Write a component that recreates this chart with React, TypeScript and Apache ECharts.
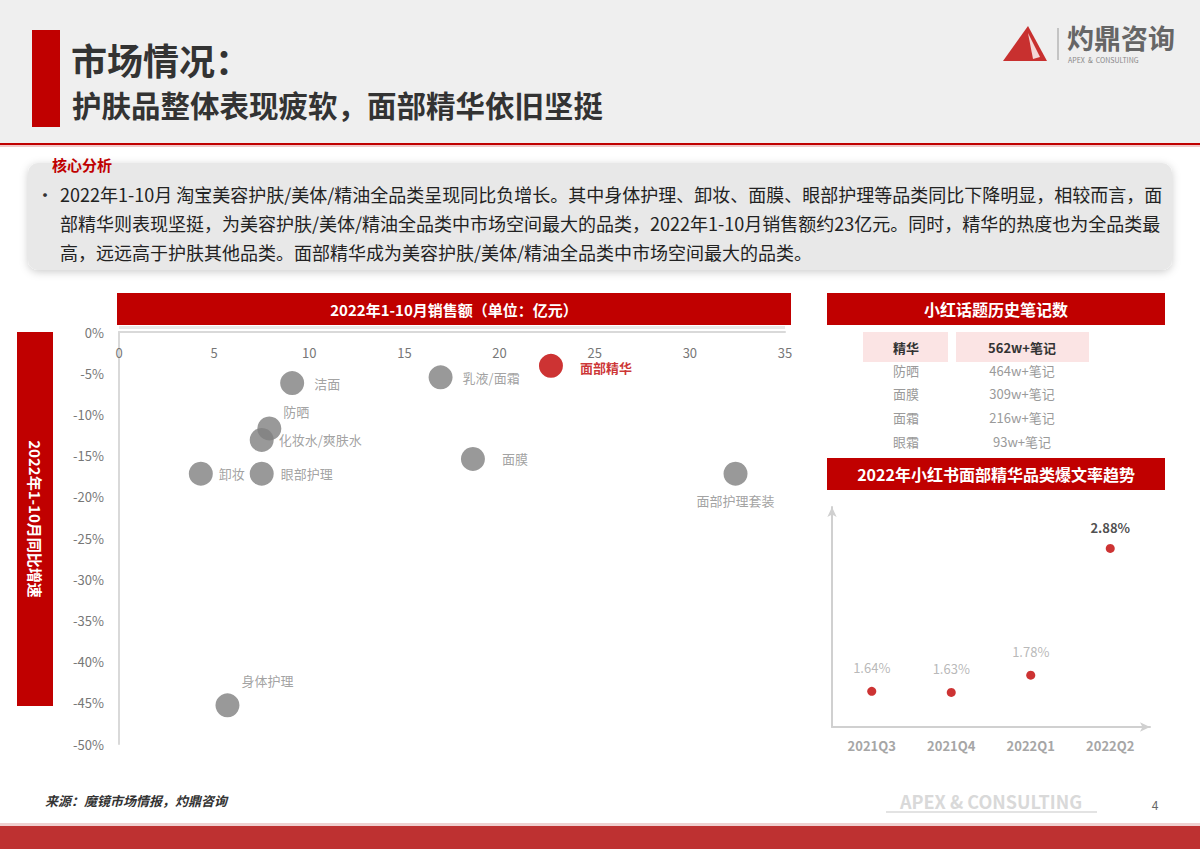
import React, { useEffect, useRef } from "react";
import * as echarts from "echarts";

const categories = ["洁面", "防晒", "化妆水/爽肤水", "卸妆", "眼部护理", "乳液/面霜", "面部精华", "面膜", "面部护理套装", "身体护理"];
const salesValues = [9.1, 7.9, 7.5, 4.3, 7.5, 16.9, 22.7, 18.6, 32.4, 5.7];
const growthValues = [-6.2, -11.7, -13.1, -17.2, -17.2, -5.5, -4.1, -15.4, -17.2, -45.3];

const noteTopics = ["精华", "防晒", "面膜", "面霜", "眼霜"];
const noteCounts = ["562w+笔记", "464w+笔记", "309w+笔记", "216w+笔记", "93w+笔记"];

const quarters = ["2021Q3", "2021Q4", "2022Q1", "2022Q2"];
const hotRates = [1.64, 1.63, 1.78, 2.88];

const analysisLines = [
  "2022年1-10月 淘宝美容护肤/美体/精油全品类呈现同比负增长。其中身体护理、卸妆、面膜、眼部护理等品类同比下降明显，相较而言，面",
  "部精华则表现坚挺，为美容护肤/美体/精油全品类中市场空间最大的品类，2022年1-10月销售额约23亿元。同时，精华的热度也为全品类最",
  "高，远远高于护肤其他品类。面部精华成为美容护肤/美体/精油全品类中市场空间最大的品类。",
];

const RED = "#c00000";
const FONT = '"Noto Sans CJK SC", "Noto Sans", sans-serif';

const labelCfg: Record<string, any> = {
  "洁面": { position: "right", distance: 10 },
  "防晒": { position: "right", distance: 2, offset: [0, -17] },
  "化妆水/爽肤水": { position: "right", distance: 5 },
  "卸妆": { position: "right", distance: 6 },
  "眼部护理": { position: "right", distance: 7 },
  "乳液/面霜": { position: "right", distance: 10 },
  "面部精华": { position: "right", distance: 17, offset: [0, 2], color: RED, fontWeight: "bold" },
  "面膜": { position: "right", distance: 17 },
  "面部护理套装": { position: "bottom", distance: 8 },
  "身体护理": { position: "top", distance: 6, offset: [40, 0] },
};

function buildOption() {
  const scatterData = categories.map((name, i) => {
    const isKey = name === "面部精华";
    const lc = labelCfg[name] || { position: "right" };
    return {
      name,
      value: [salesValues[i], growthValues[i]],
      itemStyle: { color: isKey ? RED : "#7f7f7f" },
      label: {
        show: true,
        formatter: name,
        position: lc.position,
        distance: lc.distance,
        offset: lc.offset || [0, 0],
        color: lc.color || "#8a8a8a",
        fontWeight: lc.fontWeight || "normal",
        fontSize: 13,
        fontFamily: FONT,
      },
    };
  });

  const graphics: any[] = [];
  // header background
  graphics.push({ type: "rect", shape: { x: 0, y: 0, width: 1200, height: 143 }, style: { fill: "#efefef" }, z: -10 });
  graphics.push({ type: "rect", shape: { x: 0, y: 143, width: 1200, height: 2 }, style: { fill: RED } });
  graphics.push({ type: "rect", shape: { x: 0, y: 145, width: 1200, height: 2 }, style: { fill: "#f2c9c9" } });
  graphics.push({ type: "rect", shape: { x: 32, y: 30, width: 28, height: 97 }, style: { fill: RED } });
  graphics.push({ type: "text", x: 71, y: 59, style: { text: "市场情况：", fill: "#333", font: `bold 36px ${FONT}`, textAlign: "left", textVerticalAlign: "middle" } });
  graphics.push({ type: "text", x: 72, y: 104, style: { text: "护肤品整体表现疲软，面部精华依旧坚挺", fill: "#333", font: `bold 29.5px ${FONT}`, textAlign: "left", textVerticalAlign: "middle" } });

  // logo
  graphics.push({ type: "polygon", shape: { points: [[1003, 61], [1028, 26], [1047, 61]] }, style: { fill: "#c8302f" } });
  graphics.push({ type: "polygon", shape: { points: [[1028, 33], [1040, 57], [1033, 59]] }, style: { fill: "#f3d6d6" } });
  graphics.push({ type: "line", shape: { x1: 1058, y1: 28, x2: 1058, y2: 60 }, style: { stroke: "#999", lineWidth: 1 } });
  graphics.push({ type: "text", x: 1067, y: 37, style: { text: "灼鼎咨询", fill: "#666", font: `bold 27px ${FONT}`, textAlign: "left", textVerticalAlign: "middle" } });
  graphics.push({ type: "text", x: 1068, y: 60, style: { text: "APEX  &  CONSULTING", fill: "#888", font: `7px ${FONT}`, textAlign: "left", textVerticalAlign: "middle" } });

  // analysis box
  graphics.push({
    type: "rect",
    shape: { x: 28, y: 163, width: 1144, height: 107, r: 10 },
    style: { fill: "#e8e8e8", shadowBlur: 8, shadowColor: "rgba(0,0,0,0.2)", shadowOffsetY: 2 },
  });
  graphics.push({ type: "text", x: 52, y: 164, style: { text: "核心分析", fill: RED, font: `bold 15px ${FONT}`, textAlign: "left", textVerticalAlign: "middle" } });
  graphics.push({ type: "text", x: 36, y: 194, style: { text: "•", fill: "#333", font: `18px ${FONT}`, textAlign: "left", textVerticalAlign: "middle" } });
  analysisLines.forEach((t, i) => {
    graphics.push({ type: "text", x: 60, y: 194 + i * 29, style: { text: t, fill: "#222", font: `18px ${FONT}`, textAlign: "left", textVerticalAlign: "middle" } });
  });

  // scatter title bar
  graphics.push({ type: "rect", shape: { x: 117, y: 293, width: 674, height: 32 }, style: { fill: RED } });
  graphics.push({ type: "rect", shape: { x: 119, y: 326, width: 666, height: 3 }, style: { fill: "#e8e8e8" } });
  graphics.push({ type: "text", x: 454, y: 309, style: { text: "2022年1-10月销售额（单位：亿元）", fill: "#fff", font: `bold 15px ${FONT}`, textAlign: "center", textVerticalAlign: "middle" } });
  // y title bar
  graphics.push({ type: "rect", shape: { x: 17, y: 332, width: 36, height: 374 }, style: { fill: RED } });
  graphics.push({ type: "text", x: 35, y: 519, rotation: -Math.PI / 2, style: { text: "2022年1-10月同比增速", fill: "#fff", font: `bold 15px ${FONT}`, textAlign: "center", textVerticalAlign: "middle" } });

  // right panel
  graphics.push({ type: "rect", shape: { x: 827, y: 293, width: 338, height: 32 }, style: { fill: RED } });
  graphics.push({ type: "text", x: 996, y: 309, style: { text: "小红话题历史笔记数", fill: "#fff", font: `bold 16px ${FONT}`, textAlign: "center", textVerticalAlign: "middle" } });
  graphics.push({ type: "rect", shape: { x: 863, y: 332, width: 85, height: 30 }, style: { fill: "#fbe4e4" } });
  graphics.push({ type: "rect", shape: { x: 956, y: 332, width: 133, height: 30 }, style: { fill: "#fbe4e4" } });
  noteTopics.forEach((t, i) => {
    const y = i === 0 ? 347 : 370 + (i - 1) * 23.7;
    const bold = i === 0;
    graphics.push({ type: "text", x: 906, y, style: { text: t, fill: bold ? "#333" : "#9a9a9a", font: `${bold ? "bold " : ""}13px ${FONT}`, textAlign: "center", textVerticalAlign: "middle" } });
    graphics.push({ type: "text", x: 1022, y, style: { text: noteCounts[i], fill: bold ? "#333" : "#9a9a9a", font: `${bold ? "bold " : ""}13px ${FONT}`, textAlign: "center", textVerticalAlign: "middle" } });
  });
  graphics.push({ type: "rect", shape: { x: 827, y: 458, width: 338, height: 32 }, style: { fill: RED } });
  graphics.push({ type: "text", x: 996, y: 474, style: { text: "2022年小红书面部精华品类爆文率趋势", fill: "#fff", font: `bold 16px ${FONT}`, textAlign: "center", textVerticalAlign: "middle" } });

  // footer
  graphics.push({ type: "text", x: 45, y: 800, style: { text: "来源：魔镜市场情报，灼鼎咨询", fill: "#333", font: `italic bold 13px ${FONT}`, textAlign: "left", textVerticalAlign: "middle" } });
  graphics.push({ type: "text", x: 991, y: 801, style: { text: "APEX & CONSULTING", fill: "#d9d9d9", font: `bold 18px ${FONT}`, textAlign: "center", textVerticalAlign: "middle" } });
  graphics.push({ type: "rect", shape: { x: 886, y: 811, width: 211, height: 2 }, style: { fill: "#e3e3e3" } });
  graphics.push({ type: "text", x: 1155, y: 804, style: { text: "4", fill: "#666", font: `12px ${FONT}`, textAlign: "center", textVerticalAlign: "middle" } });
  graphics.push({ type: "rect", shape: { x: 0, y: 823, width: 1200, height: 3 }, style: { fill: "#f0d0d0" } });
  graphics.push({ type: "rect", shape: { x: 0, y: 826, width: 1200, height: 23 }, style: { fill: "#be3131" } });

  return {
    animation: false,
    backgroundColor: "#ffffff",
    textStyle: { fontFamily: FONT },
    grid: [
      { left: 119, top: 332, width: 666, height: 412 },
      { left: 832, top: 507, width: 318, height: 220 },
    ],
    xAxis: [
      {
        gridIndex: 0,
        type: "value",
        position: "top",
        min: 0,
        max: 35,
        interval: 5,
        splitLine: { show: false },
        axisTick: { show: false },
        axisLine: { show: true, onZero: false, lineStyle: { color: "#d9d9d9", width: 2 } },
        axisLabel: { inside: true, margin: 14, color: "#777", fontSize: 13, fontFamily: FONT },
      },
      {
        gridIndex: 1,
        type: "category",
        data: quarters,
        axisTick: { show: false },
        axisLine: { show: true, symbol: ["none", "arrow"], symbolSize: [7, 10], lineStyle: { color: "#d0d0d0", width: 2 } },
        axisLabel: { margin: 12, color: "#a6a6a6", fontSize: 13, fontWeight: "bold", fontFamily: FONT },
      },
    ],
    yAxis: [
      {
        gridIndex: 0,
        type: "value",
        min: -50,
        max: 0,
        interval: 5,
        splitLine: { show: false },
        axisTick: { show: false },
        axisLine: { show: true, lineStyle: { color: "#d9d9d9", width: 2 } },
        axisLabel: { margin: 15, color: "#777", fontSize: 13, fontFamily: FONT, formatter: "{value}%" },
      },
      {
        gridIndex: 1,
        type: "value",
        min: 1.33,
        max: 3.24,
        splitLine: { show: false },
        axisTick: { show: false },
        axisLabel: { show: false },
        axisLine: { show: true, symbol: ["none", "arrow"], symbolSize: [7, 10], lineStyle: { color: "#d0d0d0", width: 2 } },
      },
    ],
    series: [
      {
        type: "scatter",
        xAxisIndex: 0,
        yAxisIndex: 0,
        symbolSize: 24,
        data: scatterData,
      },
      {
        type: "scatter",
        xAxisIndex: 1,
        yAxisIndex: 1,
        symbolSize: 9,
        itemStyle: { color: RED },
        data: hotRates.map((v, i) => ({
          value: v,
          label: {
            show: true,
            position: "top",
            distance: i === hotRates.length - 1 ? 10 : 13,
            formatter: v.toFixed(2) + "%",
            color: i === hotRates.length - 1 ? "#222" : "#a6a6a6",
            fontWeight: i === hotRates.length - 1 ? "bold" : "normal",
            fontSize: 13,
            fontFamily: FONT,
          },
        })),
      },
    ],
    graphic: { elements: graphics },
  };
}

export default function App() {
  const ref = useRef<HTMLDivElement>(null);
  useEffect(() => {
    if (!ref.current) return;
    const chart = echarts.init(ref.current, undefined, { renderer: "svg" });
    chart.setOption(buildOption() as any);
    return () => chart.dispose();
  }, []);
  return <div ref={ref} style={{ position: "absolute", left: 0, top: 0, width: 1200, height: 849 }} />;
}
